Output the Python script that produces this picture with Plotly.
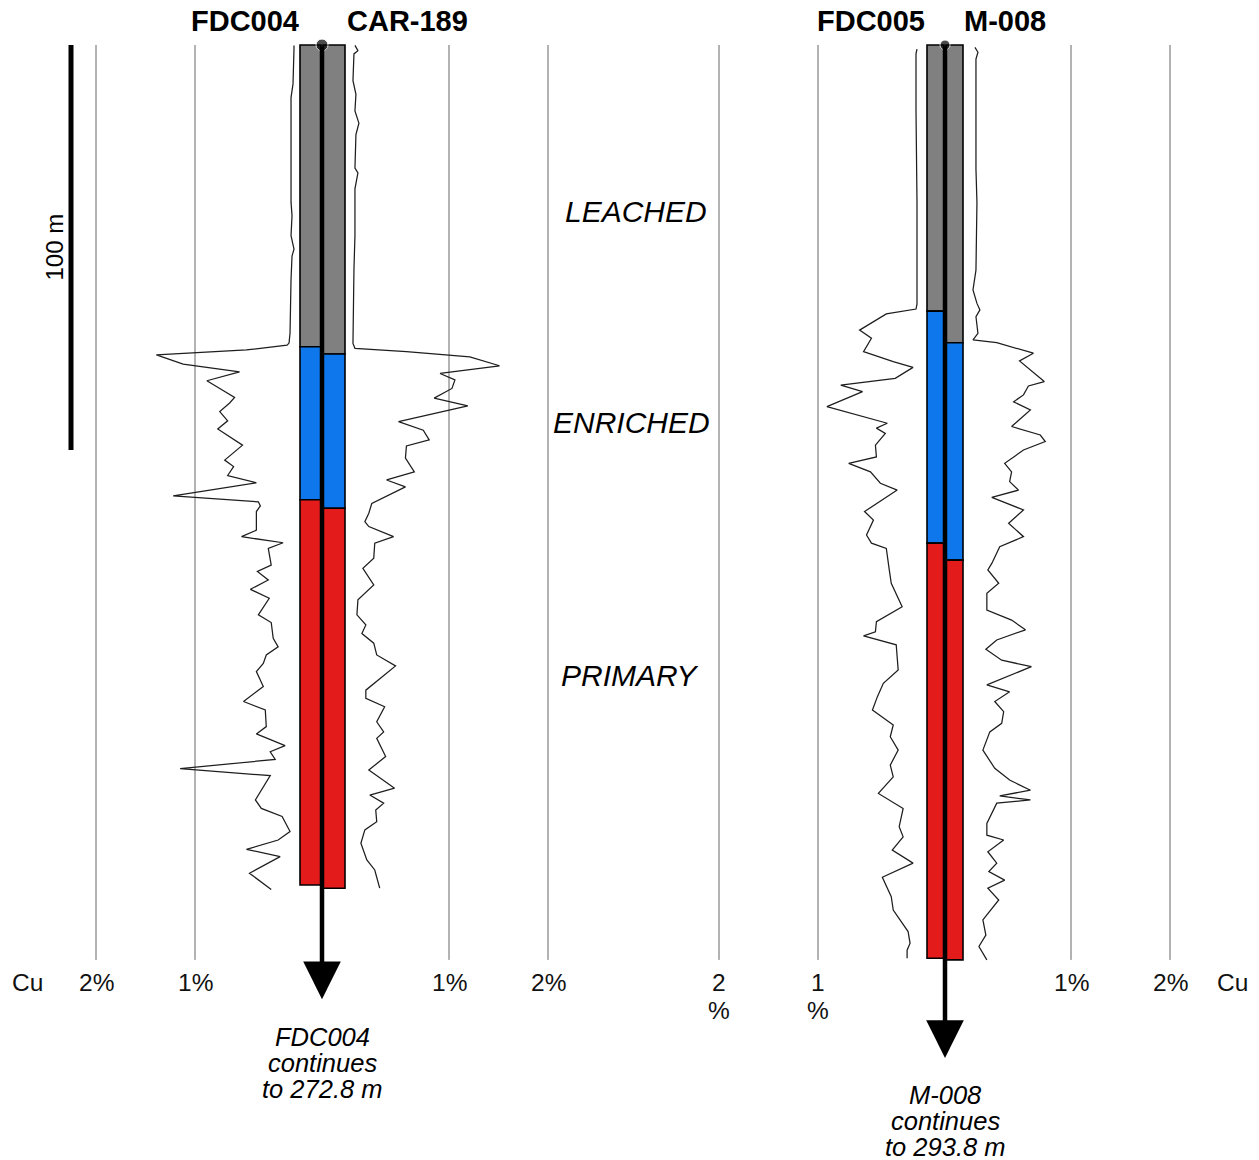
import plotly.graph_objects as go

# ------------------------------------------------------------------ data
holes = ["FDC004", "CAR-189", "FDC005", "M-008"]
pairs = [["FDC004", "CAR-189"], ["FDC005", "M-008"]]

# zone boundaries down each hole (m)
leached_bottom_m = [74.5, 76.3, 65.7, 73.5]
enriched_bottom_m = [112.3, 114.4, 123.0, 127.2]
logged_bottom_m = [207.4, 208.2, 225.5, 225.9]
zone_names = ["LEACHED", "ENRICHED", "PRIMARY"]
zone_label_depth_m = [41.2, 93.3, 155.8]

# Cu (%) profiles, depth (m)
fdc004_depth = [0.1, 0.9, 9.6, 13.0, 38.8, 42.1, 47.1, 50.4, 52.1, 57.9,
                71.1, 73.6, 74.1, 75.3, 76.5, 78.8, 80.7, 82.9, 84.8, 87.0,
                88.4, 90.5, 92.8, 94.8, 98.8, 102.5, 104.1, 106.3, 108.1, 111.3,
                112.8, 113.8, 115.2, 119.8, 121.4, 122.9, 124.3, 128.4, 130.0, 132.1,
                134.4, 136.6, 140.7, 142.6, 146.5, 148.6, 150.6, 152.7, 154.7, 158.4,
                162.1, 164.2, 168.3, 170.1, 173.0, 174.5, 176.4, 178.7, 180.4, 186.4,
                188.5, 190.5, 194.2, 196.3, 198.6, 200.4, 204.5, 208.5]
fdc004_cu = [0.00, 0.00, 0.01, 0.03, 0.03, 0.02, 0.03, 0.00, 0.02, 0.03,
             0.04, 0.05, 0.07, 0.48, 1.39, 1.12, 0.55, 0.88, 0.75, 0.60,
             0.65, 0.75, 0.67, 0.77, 0.52, 0.70, 0.61, 0.67, 0.38, 1.22,
             0.36, 0.34, 0.38, 0.38, 0.53, 0.11, 0.26, 0.23, 0.37, 0.26,
             0.44, 0.25, 0.36, 0.23, 0.21, 0.16, 0.28, 0.31, 0.38, 0.31,
             0.51, 0.29, 0.28, 0.38, 0.09, 0.24, 0.19, 1.15, 0.24, 0.39,
             0.33, 0.12, 0.04, 0.16, 0.48, 0.14, 0.45, 0.23]

car189_depth = [0.1, 1.4, 2.2, 8.8, 12.2, 16.3, 19.3, 22.1, 30.4, 31.6,
                35.5, 47.1, 55.3, 72.0, 73.7, 74.9, 75.7, 77.0, 79.2, 81.1,
                82.7, 84.8, 87.2, 89.1, 93.0, 95.1, 97.5, 99.0, 102.0, 105.4,
                107.4, 109.1, 113.2, 115.6, 117.7, 118.9, 121.4, 123.0, 126.7, 129.2,
                133.3, 137.0, 140.7, 143.2, 145.3, 147.7, 150.6, 153.3, 159.3, 161.3,
                163.4, 167.1, 169.6, 171.2, 175.7, 179.0, 183.5, 185.2, 187.2, 188.9,
                191.8, 193.8, 197.1, 201.2, 203.7, 208.2]
car189_cu = [0.05, 0.08, 0.04, 0.03, 0.06, 0.05, 0.09, 0.06, 0.05, 0.08,
             0.05, 0.05, 0.04, 0.03, 0.03, 0.05, 0.57, 1.21, 1.51, 0.91,
             1.06, 1.03, 0.85, 1.19, 0.49, 0.74, 0.80, 0.57, 0.56, 0.65,
             0.37, 0.56, 0.22, 0.19, 0.15, 0.19, 0.44, 0.25, 0.24, 0.13,
             0.24, 0.08, 0.07, 0.16, 0.12, 0.24, 0.27, 0.46, 0.16, 0.16,
             0.35, 0.27, 0.34, 0.27, 0.36, 0.19, 0.45, 0.20, 0.34, 0.26,
             0.27, 0.15, 0.11, 0.17, 0.25, 0.30]

fdc005_depth = [1.0, 2.2, 16.4, 38.9, 64.0, 65.2, 66.4, 70.4, 72.4, 75.7,
                78.2, 79.6, 82.3, 84.0, 85.6, 89.3, 93.4, 94.6, 95.9, 98.8,
                101.7, 103.3, 105.4, 108.2, 109.9, 115.2, 117.3, 121.0, 123.0, 124.3,
                129.6, 132.9, 138.7, 142.4, 144.9, 145.9, 148.1, 154.3, 157.6, 160.9,
                164.2, 167.9, 170.8, 174.1, 177.8, 180.7, 184.8, 188.5, 193.0, 195.5,
                198.8, 202.0, 205.5, 210.3, 213.6, 218.9, 221.8, 223.5, 225.5]
fdc005_cu = [0.00, 0.01, 0.01, 0.00, 0.00, 0.01, 0.31, 0.58, 0.46, 0.54,
             0.24, 0.04, 0.22, 0.77, 0.55, 0.91, 0.30, 0.41, 0.32, 0.42,
             0.41, 0.69, 0.47, 0.37, 0.20, 0.53, 0.44, 0.51, 0.46, 0.31,
             0.28, 0.26, 0.15, 0.41, 0.42, 0.54, 0.21, 0.19, 0.34, 0.40,
             0.45, 0.24, 0.27, 0.19, 0.27, 0.24, 0.39, 0.14, 0.18, 0.14,
             0.25, 0.04, 0.35, 0.26, 0.24, 0.09, 0.07, 0.10, 0.10]

m008_depth = [0.6, 1.8, 3.5, 30.6, 38.9, 55.6, 60.5, 63.8, 65.4, 67.1,
              71.2, 72.8, 73.5, 76.1, 78.0, 83.1, 84.2, 86.4, 88.1, 90.1,
              94.2, 96.3, 97.9, 100.0, 103.3, 105.4, 107.8, 109.9, 111.7, 114.8,
              118.1, 121.4, 123.9, 128.0, 129.6, 132.9, 135.4, 139.5, 142.0, 144.4,
              146.9, 149.2, 151.9, 153.5, 158.0, 159.7, 162.1, 164.6, 167.5, 169.6,
              174.1, 178.6, 181.5, 184.0, 185.4, 186.4, 187.2, 192.2, 195.1, 196.3,
              199.2, 202.0, 204.1, 206.2, 208.2, 211.1, 216.0, 219.8, 222.6, 225.9]
m008_cu = [0.03, 0.06, 0.04, 0.04, 0.05, 0.04, 0.01, 0.05, 0.08, 0.04,
           0.06, 0.01, 0.25, 0.62, 0.48, 0.73, 0.57, 0.52, 0.42, 0.59,
           0.40, 0.69, 0.74, 0.52, 0.33, 0.40, 0.38, 0.47, 0.20, 0.52,
           0.37, 0.52, 0.28, 0.20, 0.16, 0.27, 0.15, 0.15, 0.40, 0.54,
           0.25, 0.14, 0.30, 0.60, 0.15, 0.38, 0.23, 0.32, 0.30, 0.18,
           0.11, 0.23, 0.38, 0.59, 0.28, 0.59, 0.25, 0.15, 0.15, 0.32,
           0.16, 0.25, 0.17, 0.33, 0.16, 0.27, 0.11, 0.14, 0.07, 0.15]

profile_depth = [fdc004_depth, car189_depth, fdc005_depth, m008_depth]
profile_cu = [fdc004_cu, car189_cu, fdc005_cu, m008_cu]

cu_ticks = [1, 2]
cu_tick_text = [["1%", "2%"], ["1%", "2%"], ["1<br>%", "2<br>%"], ["1%", "2%"]]
scale_bar_m = 100
continues_lines = [["FDC004", "continues", "to 272.8 m"],
                   ["M-008", "continues", "to 293.8 m"]]

# ------------------------------------------------------------------ layout constants
W, H = 1259, 1160
TOP_PX = 45.0
PX_PER_M = 4.05
PX_PER_PCT = 99.0
FONT = "Liberation Sans, Arial, Helvetica, sans-serif"

col_center_px = [310.5, 334.0, 935.5, 954.5]
col_width_px = [21, 22, 17, 17]
pair_center_px = [322, 945]
pair_title_px = [[245, 407], [871, 1005]]
arrow_tip_m = [235.6, 250.1]
dot_size = [12, 10]
cu_zero_px = [294, 350, 917, 972]
cu_dir = [-1, 1, -1, 1]
grid_bottom_m = 225.9
zone_label_x_px = [636, 631, 630]
note_top_px = [1037, 1095]
note_spacing_px = 26
tick_label_px = 983
tick_line_px = 27

colors = {"LEACHED": "#808080", "ENRICHED": "#0E77EC", "PRIMARY": "#E31B1B"}


def paper_y(px):
    return 1 - px / H


def cu_range(zero_px, direction):
    if direction < 0:
        return [zero_px / PX_PER_PCT, (zero_px - W) / PX_PER_PCT]
    return [-zero_px / PX_PER_PCT, (W - zero_px) / PX_PER_PCT]


fig = go.Figure()
ax_ids = ["x2", "x3", "x4", "x5"]

# Cu profiles
for i, h in enumerate(holes):
    fig.add_trace(go.Scatter(
        x=profile_cu[i], y=profile_depth[i], xaxis=ax_ids[i], yaxis="y",
        mode="lines", line=dict(color="#1e1e1e", width=1.25),
        name=h + " Cu", showlegend=False, hoverinfo="skip"))

# zone columns
zone_tops = [[0] * 4, leached_bottom_m, enriched_bottom_m]
zone_bottoms = [leached_bottom_m, enriched_bottom_m, logged_bottom_m]
for z, name in enumerate(zone_names):
    fig.add_trace(go.Bar(
        x=col_center_px, base=zone_tops[z],
        y=[b - t for b, t in zip(zone_bottoms[z], zone_tops[z])],
        width=col_width_px, xaxis="x", yaxis="y",
        marker=dict(color=colors[name], line=dict(color="black", width=1.6)),
        name=name, showlegend=False, hoverinfo="skip"))

# scale bar
fig.add_trace(go.Scatter(x=[71, 71], y=[0, scale_bar_m], mode="lines",
                         line=dict(color="black", width=5), showlegend=False,
                         hoverinfo="skip"))

shapes = []
annotations = []
# grid lines + tick labels
for i in range(4):
    for t, txt in zip(cu_ticks, cu_tick_text[i]):
        shapes.append(dict(type="line", xref=ax_ids[i], yref="y", x0=t, x1=t,
                           y0=0, y1=grid_bottom_m, layer="below",
                           line=dict(color="#666666", width=1)))
        for k, part in enumerate(txt.split("<br>")):
            annotations.append(dict(
                text=part, xref=ax_ids[i], yref="paper", x=t,
                y=paper_y(tick_label_px + k * tick_line_px),
                xanchor="center", yanchor="middle", showarrow=False,
                font=dict(family=FONT, size=24.5, color="#111")))

for xpx in [27, 1232]:
    annotations.append(dict(text="Cu", xref="x", yref="paper", x=xpx,
                            y=paper_y(tick_label_px), showarrow=False,
                            xanchor="center", yanchor="middle",
                            font=dict(family=FONT, size=24.5, color="#111")))

# hole titles
for p, pair in enumerate(pairs):
    for name, xpx in zip(pair, pair_title_px[p]):
        annotations.append(dict(text="<b>" + name + "</b>", xref="x", yref="paper",
                                x=xpx, y=paper_y(21.5), showarrow=False,
                                xanchor="center", yanchor="middle",
                                font=dict(family=FONT, size=29, color="black")))
    # hole trace + arrow
    annotations.append(dict(text="", x=pair_center_px[p], y=arrow_tip_m[p],
                            xref="x", yref="y", ax=pair_center_px[p], ay=0,
                            axref="x", ayref="y", showarrow=True, arrowhead=2,
                            arrowwidth=4.5, arrowsize=1.67, arrowcolor="black"))
    for k, line in enumerate(continues_lines[p]):
        annotations.append(dict(text="<i>" + line + "</i>", xref="x", yref="paper",
                                x=pair_center_px[p],
                                y=paper_y(note_top_px[p] + k * note_spacing_px),
                                showarrow=False, xanchor="center", yanchor="middle",
                                font=dict(family=FONT, size=25.5, color="black")))

# zone labels
for z, name in enumerate(zone_names):
    annotations.append(dict(text="<i>" + name + "</i>", xref="x", yref="y",
                            x=zone_label_x_px[z], y=zone_label_depth_m[z],
                            showarrow=False, xanchor="center", yanchor="middle",
                            font=dict(family=FONT, size=30, color="black")))

# scale label
annotations.append(dict(text="100 m", xref="x", yref="y", x=54, y=scale_bar_m / 2,
                        textangle=-90, showarrow=False, xanchor="center",
                        yanchor="middle", font=dict(family=FONT, size=24, color="black")))

layout_axes = dict(
    xaxis=dict(range=[0, W], domain=[0, 1], visible=False, fixedrange=True),
    yaxis=dict(range=[(H - TOP_PX) / PX_PER_M, -TOP_PX / PX_PER_M], domain=[0, 1],
               visible=False, fixedrange=True),
)
for i, a in enumerate(ax_ids):
    layout_axes["xaxis" + a[1:]] = dict(range=cu_range(cu_zero_px[i], cu_dir[i]),
                                        domain=[0, 1], overlaying="x", anchor="y",
                                        visible=False, fixedrange=True)

fig.update_layout(
    width=W, height=H, margin=dict(l=0, r=0, t=0, b=0, pad=0),
    paper_bgcolor="white", plot_bgcolor="white", barmode="overlay",
    showlegend=False, shapes=shapes, annotations=annotations,
    font=dict(family=FONT), **layout_axes)

# collar dots (added last so they sit on top of the traces)
fig.add_trace(go.Scatter(x=pair_center_px, y=[0, 0], mode="markers",
                         marker=dict(color="black", size=dot_size), showlegend=False,
                         hoverinfo="skip"))

fig.write_html("out.html", config={"displayModeBar": False},
               post_script="document.body.style.margin='0';")
